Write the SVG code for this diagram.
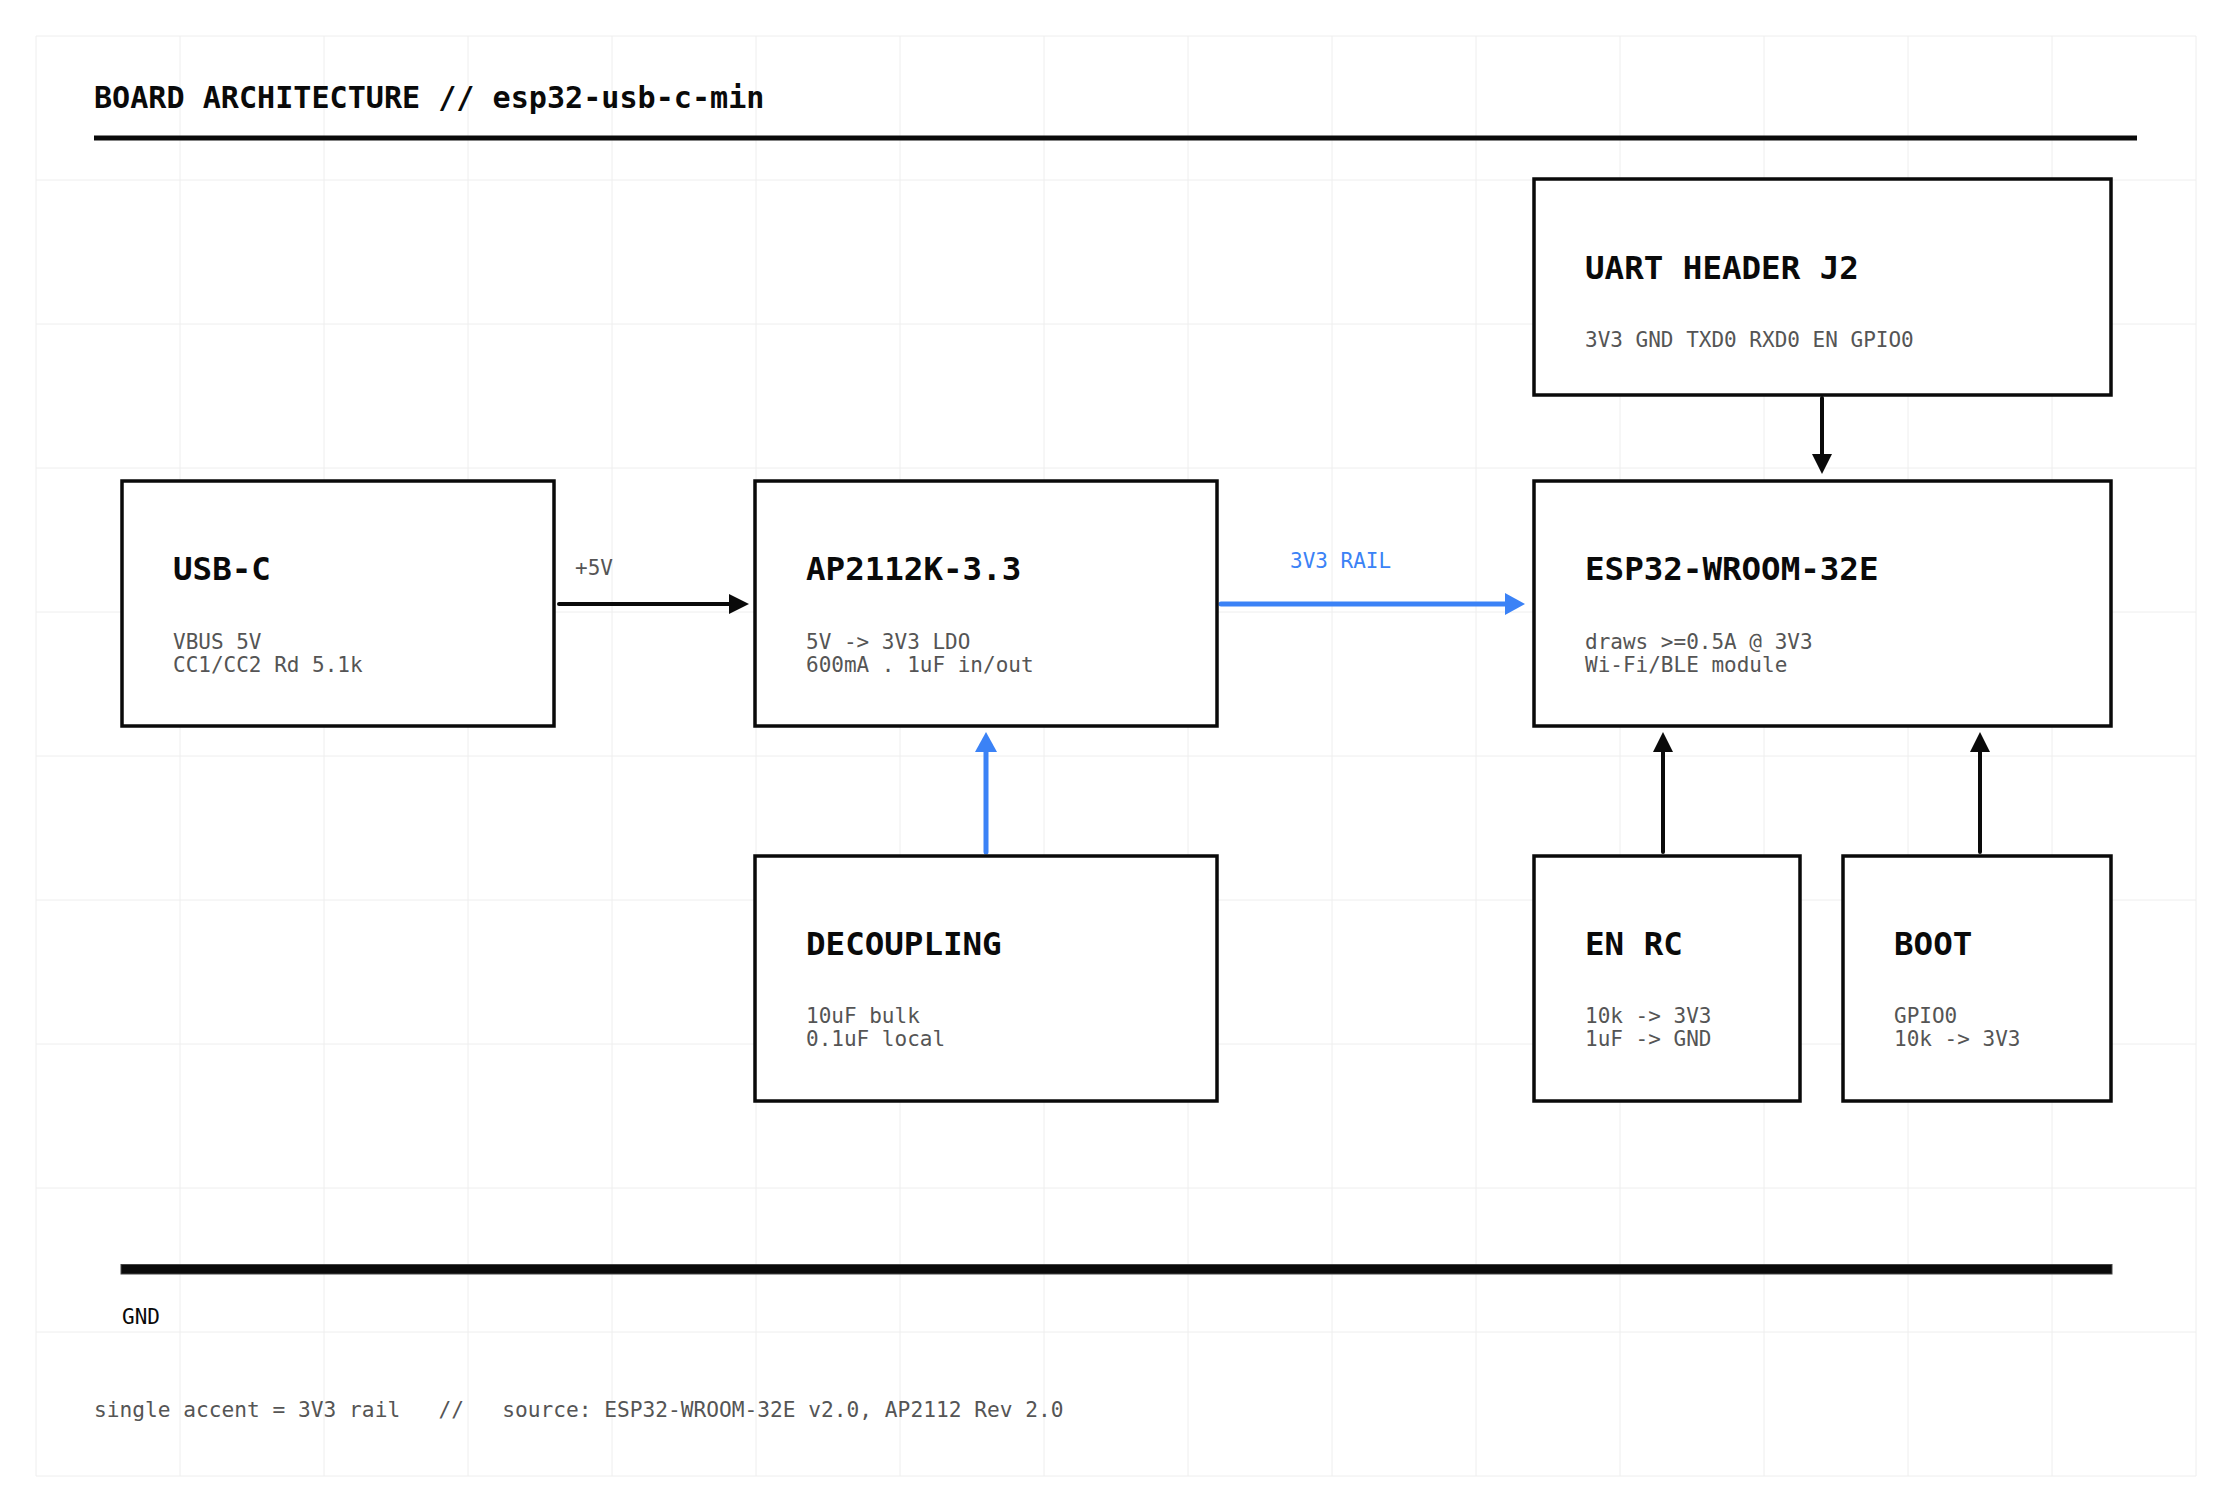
<svg xmlns="http://www.w3.org/2000/svg" width="2231" height="1511" viewBox="0 0 2231 1511">
<style>
.grid line{stroke:#eeeeee;stroke-width:1}
.box{fill:#ffffff;stroke:#0a0a0a;stroke-width:3.5}
.t{font-family:"DejaVu Sans Mono","Liberation Mono",monospace;font-weight:bold;font-size:32.5px;fill:#0a0a0a}
.s{font-family:"DejaVu Sans Mono","Liberation Mono",monospace;font-size:21px;fill:#555555}
.lbl{font-family:"DejaVu Sans Mono","Liberation Mono",monospace;font-size:21px;fill:#555555}
.blk{stroke:#0a0a0a;stroke-width:4;fill:none;stroke-linecap:round}
.blu{stroke:#3b82f6;stroke-width:5;fill:none;stroke-linecap:round}
</style>
<defs>
<marker id="ah" viewBox="0 0 20 20" refX="10" refY="10" markerWidth="20" markerHeight="20" markerUnits="userSpaceOnUse" orient="auto"><path d="M0,0 L20,10 L0,20 z" fill="#0a0a0a"/></marker>
<marker id="ahb" viewBox="0 0 20 22" refX="10" refY="11" markerWidth="20" markerHeight="22" markerUnits="userSpaceOnUse" orient="auto"><path d="M0,0 L20,11 L0,22 z" fill="#3b82f6"/></marker>
</defs>
<rect x="0" y="0" width="2231" height="1511" fill="#ffffff"/>
<g class="grid">
<line x1="36" y1="36" x2="36" y2="1476"/><line x1="180" y1="36" x2="180" y2="1476"/><line x1="324" y1="36" x2="324" y2="1476"/><line x1="468" y1="36" x2="468" y2="1476"/><line x1="612" y1="36" x2="612" y2="1476"/><line x1="756" y1="36" x2="756" y2="1476"/><line x1="900" y1="36" x2="900" y2="1476"/><line x1="1044" y1="36" x2="1044" y2="1476"/><line x1="1188" y1="36" x2="1188" y2="1476"/><line x1="1332" y1="36" x2="1332" y2="1476"/><line x1="1476" y1="36" x2="1476" y2="1476"/><line x1="1620" y1="36" x2="1620" y2="1476"/><line x1="1764" y1="36" x2="1764" y2="1476"/><line x1="1908" y1="36" x2="1908" y2="1476"/><line x1="2052" y1="36" x2="2052" y2="1476"/><line x1="2196" y1="36" x2="2196" y2="1476"/>
<line x1="36" y1="36" x2="2196" y2="36"/><line x1="36" y1="180" x2="2196" y2="180"/><line x1="36" y1="324" x2="2196" y2="324"/><line x1="36" y1="468" x2="2196" y2="468"/><line x1="36" y1="612" x2="2196" y2="612"/><line x1="36" y1="756" x2="2196" y2="756"/><line x1="36" y1="900" x2="2196" y2="900"/><line x1="36" y1="1044" x2="2196" y2="1044"/><line x1="36" y1="1188" x2="2196" y2="1188"/><line x1="36" y1="1332" x2="2196" y2="1332"/><line x1="36" y1="1476" x2="2196" y2="1476"/>
</g>
<g id="header">
<text x="94" y="108" font-family="DejaVu Sans Mono, Liberation Mono, monospace" font-weight="bold" font-size="30.1" fill="#0a0a0a">BOARD ARCHITECTURE // esp32-usb-c-min</text>
<line x1="94" y1="138" x2="2137" y2="138" stroke="#0a0a0a" stroke-width="5"/>
</g>
<g id="connectors">
<line class="blk" x1="559" y1="604" x2="739" y2="604" marker-end="url(#ah)"/>
<text class="lbl" x="575" y="575">+5V</text>
<line class="blu" x1="1221" y1="604" x2="1515" y2="604" marker-end="url(#ahb)"/>
<text class="lbl" x="1290" y="568" style="fill:#3b82f6">3V3 RAIL</text>
<line class="blk" x1="1822" y1="398" x2="1822" y2="464" marker-end="url(#ah)"/>
<line class="blu" x1="986" y1="852" x2="986" y2="742" marker-end="url(#ahb)"/>
<line class="blk" x1="1663" y1="852" x2="1663" y2="742" marker-end="url(#ah)"/>
<line class="blk" x1="1980" y1="852" x2="1980" y2="742" marker-end="url(#ah)"/>
</g>
<g id="usb-c">
<rect class="box" x="122" y="481" width="432" height="245"/>
<text class="t" x="173" y="580">USB-C</text>
<text class="s" x="173" y="649">VBUS 5V<tspan x="173" dy="23">CC1/CC2 Rd 5.1k</tspan></text>
</g>
<g id="ap2112k">
<rect class="box" x="755" y="481" width="462" height="245"/>
<text class="t" x="806" y="580">AP2112K-3.3</text>
<text class="s" x="806" y="649">5V -&gt; 3V3 LDO<tspan x="806" dy="23">600mA . 1uF in/out</tspan></text>
</g>
<g id="esp32">
<rect class="box" x="1534" y="481" width="577" height="245"/>
<text class="t" x="1585" y="580">ESP32-WROOM-32E</text>
<text class="s" x="1585" y="649">draws &gt;=0.5A @ 3V3<tspan x="1585" dy="23">Wi-Fi/BLE module</tspan></text>
</g>
<g id="uart">
<rect class="box" x="1534" y="179" width="577" height="216"/>
<text class="t" x="1585" y="279">UART HEADER J2</text>
<text class="s" x="1585" y="347">3V3 GND TXD0 RXD0 EN GPIO0</text>
</g>
<g id="decoupling">
<rect class="box" x="755" y="856" width="462" height="245"/>
<text class="t" x="806" y="955">DECOUPLING</text>
<text class="s" x="806" y="1023">10uF bulk<tspan x="806" dy="23">0.1uF local</tspan></text>
</g>
<g id="en-rc">
<rect class="box" x="1534" y="856" width="266" height="245"/>
<text class="t" x="1585" y="955">EN RC</text>
<text class="s" x="1585" y="1023">10k -&gt; 3V3<tspan x="1585" dy="23">1uF -&gt; GND</tspan></text>
</g>
<g id="boot">
<rect class="box" x="1843" y="856" width="268" height="245"/>
<text class="t" x="1894" y="955">BOOT</text>
<text class="s" x="1894" y="1023">GPIO0<tspan x="1894" dy="23">10k -&gt; 3V3</tspan></text>
</g>
<g id="gnd">
<rect x="121" y="1264.5" width="1991" height="9.5" fill="#0a0a0a" stroke="#444444" stroke-width="1"/>
<text x="122" y="1324" font-family="DejaVu Sans Mono, Liberation Mono, monospace" font-size="21" fill="#0a0a0a">GND</text>
</g>
<g id="footer">
<text class="s" x="94" y="1417" style="font-size:21.2px" xml:space="preserve">single accent = 3V3 rail   //   source: ESP32-WROOM-32E v2.0, AP2112 Rev 2.0</text>
</g>
</svg>
